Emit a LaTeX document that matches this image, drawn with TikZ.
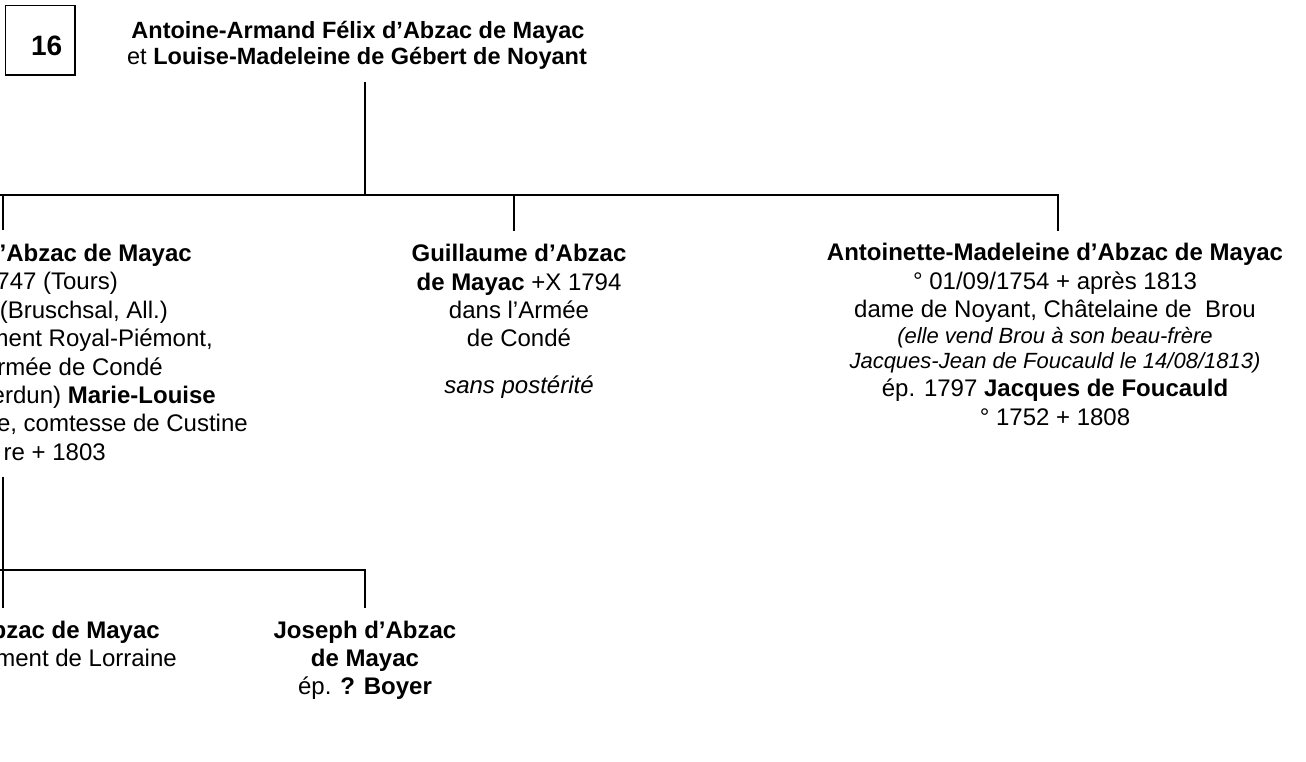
\documentclass[tikz,border=0pt]{standalone}
\usepackage{fontspec}
\setmainfont{Liberation Sans}
\begin{document}
\begin{tikzpicture}[x=1pt,y=-1pt,
  conn/.style={line width=1.8pt, line join=miter},
  numbox/.style={draw, line width=1.3pt, minimum width=69.5pt, minimum height=69.5pt, inner sep=0pt},
  numtxt/.style={inner sep=0pt, anchor=base, font=\fontsize{28}{32}\selectfont\bfseries},
  ttl/.style={inner sep=0pt, anchor=base, font=\fontsize{23.5}{27}\selectfont},
  txt/.style={inner sep=0pt, anchor=base, font=\fontsize{24}{28}\selectfont},
  bld/.style={txt, font=\fontsize{24}{28}\selectfont\bfseries},
  itl/.style={txt, font=\fontsize{24}{28}\selectfont\itshape},
  note/.style={txt, font=\fontsize{22}{25}\selectfont\itshape},
  cut/.style={txt, anchor=base east},
  cutb/.style={bld, anchor=base east}]
\useasboundingbox (0,0) rectangle (1306,761);
\clip (0,0) rectangle (1306,761);

% number box
\node[numbox] (num) at (40.3,40.3) {};
\node[numtxt] (numlabel) at (46.7,55) {16};

% parents
\node[ttl] (t1) at (358,38) {\bfseries Antoine-Armand Félix d’Abzac de Mayac};
\node[ttl] (t2) at (357,64) {et \textbf{Louise-Madeleine de Gébert de Noyant}};

% first-generation connectors
\coordinate (tbot) at (365,82);
\coordinate (barM) at (365,195);
\coordinate (barL) at (-20,195);
\coordinate (barA) at (3.2,195);
\coordinate (barG) at (514,195);
\coordinate (barR) at (1058,195);
\coordinate (topA) at (3.2,230);
\coordinate (topG) at (514,231);
\coordinate (topR) at (1058,231);
\draw[conn] (tbot) -- (barM);
\draw[conn] (barL) -- (barR) -- (topR);
\draw[conn] (barG) -- (topG);
\draw[conn] (barA) -- (topA);

% left child (cut by the page edge)
\node[cutb] (a1) at (192,261) {d’Abzac de Mayac};
\node[cut] (a2) at (118,289.5) {747 (Tours)};
\node[cut] (a3) at (168,318) {(Bruschsal, All.)};
\node[cut] (a4) at (213,346.5) {ment Royal-Piémont,};
\node[cut] (a5) at (163,375) {rmée de Condé};
\node[cut] (a6) at (216,403) {erdun) \textbf{Marie-Louise}};
\node[cut] (a7) at (248,431.5) {e, comtesse de Custine};
\node[cut] (a8) at (106,460) {re + 1803};

% middle child
\node[bld] (g1) at (519,261.5) {Guillaume d’Abzac};
\node[txt] (g2) at (519,290) {\textbf{de Mayac} +X 1794};
\node[txt] (g3) at (519,318) {dans l’Armée};
\node[txt] (g4) at (519,346.5) {de Condé};
\node[itl] (g5) at (519,393) {sans postérité};

% right child
\node[bld] (r1) at (1055,260) {Antoinette-Madeleine d’Abzac de Mayac};
\node[txt] (r2) at (1055,289) {° 01/09/1754 + après 1813};
\node[txt] (r3) at (1055,317.5) {dame de Noyant, Châtelaine de\ \ Brou};
\node[note] (r4) at (1055,343) {(elle vend Brou à son beau-frère};
\node[note] (r5) at (1055,368) {Jacques-Jean de Foucauld le 14/08/1813)};
\node[txt] (r6) at (1055,396.5) {ép. 1797 \textbf{Jacques de Foucauld}};
\node[txt] (r7) at (1055,425) {° 1752 + 1808};

% second-generation connectors
\coordinate (subA) at (3.2,477);
\coordinate (subJ) at (3.2,570);
\coordinate (subL) at (-20,570);
\coordinate (subR) at (365,570);
\coordinate (topB) at (3.2,608);
\coordinate (topJ) at (365,608);
\draw[conn] (subA) -- (topB);
\draw[conn] (subL) -- (subR) -- (topJ);

% grandchildren
\node[cutb] (b1) at (160,638) {bzac de Mayac};
\node[cut] (b2) at (177,666) {ment de Lorraine};
\node[bld] (j1) at (365,638) {Joseph d’Abzac};
\node[bld] (j2) at (365,666) {de Mayac};
\node[txt] (j3) at (365,694) {ép. \textbf{? Boyer}};
\end{tikzpicture}
\end{document}
